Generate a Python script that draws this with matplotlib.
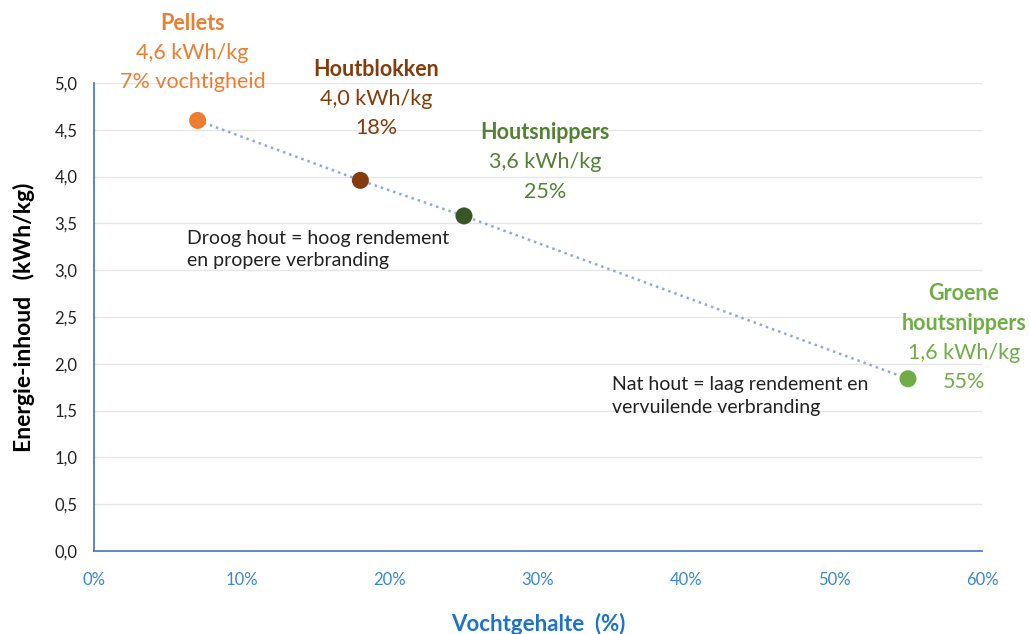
import matplotlib.pyplot as plt
from matplotlib.ticker import FuncFormatter

plt.rcParams['font.family'] = ['Lato', 'DejaVu Sans']

# data
names = ['Pellets', 'Houtblokken', 'Houtsnippers', 'Groene\nhoutsnippers']
moisture = [7, 18, 25, 55]          # %
energy = [4.6, 3.96, 3.58, 1.84]    # kWh/kg
energy_labels = ['4,6 kWh/kg', '4,0 kWh/kg', '3,6 kWh/kg', '1,6 kWh/kg']
moisture_labels = ['7% vochtigheid', '18%', '25%', '55%']
dot_colors = ['#ED7D31', '#843C0C', '#375623', '#70AD47']
text_colors = ['#ED7D31', '#843C0C', '#548235', '#70AD47']

fig = plt.figure(figsize=(10.3, 6.34), dpi=100)
ax = fig.add_axes([94/1030, 1-551/634, 888/1030, 468/634])

ax.plot(moisture, energy, linestyle=(0, (1, 1.6)), color='#8EAADB', lw=1.8, zorder=2)
ax.scatter(moisture, energy, s=150, c=dot_colors, zorder=3, edgecolors='none')

ax.set_xlim(0, 60)
ax.set_ylim(0, 5)
ax.set_xticks(range(0, 61, 10))
ax.set_yticks([i/2 for i in range(11)])
ax.xaxis.set_major_formatter(FuncFormatter(lambda v, p: f'{int(v)}%'))
ax.yaxis.set_major_formatter(FuncFormatter(lambda v, p: f'{v:.1f}'.replace('.', ',')))
ax.tick_params(length=0, labelsize=12)
ax.tick_params(axis='x', colors='#3A86D4', pad=15)
ax.tick_params(axis='y', colors='#222222', pad=12)
ax.grid(axis='y', color='#E6E6E6', lw=1)
ax.set_axisbelow(True)
for s in ['top', 'right']:
    ax.spines[s].set_visible(False)
for s in ['left', 'bottom']:
    ax.spines[s].set_color('#4472C4')
    ax.spines[s].set_linewidth(1.2)

ax.set_xlabel('Vochtgehalte  (%)', fontsize=16, fontweight='bold', color='#1E73C8', labelpad=18)
ax.set_ylabel('Energie-inhoud   (kWh/kg)', fontsize=16.5, fontweight='bold', color='black', labelpad=14)

# labels per point (offsets in pixels)
offsets = [(-5, 97), (16, 111), (81, 83), (56, 85)]
for i in range(len(names)):
    dx, dy = offsets[i]
    lines = [(names[i], 'bold')]
    if '\n' in names[i]:
        a, b = names[i].split('\n')
        lines = [(a, 'bold'), (b, 'bold')]
    lines += [(energy_labels[i], 'normal'), (moisture_labels[i], 'normal')]
    for j, (t, w) in enumerate(lines):
        ax.annotate(t, (moisture[i], energy[i]), xytext=(dx, dy - j*29.5),
                    textcoords='offset pixels', ha='center', va='center',
                    fontsize=15.5, fontweight=w,
                    color=text_colors[i], annotation_clip=False)

ax.annotate('Droog hout = hoog rendement\nen propere verbranding', (moisture[1], energy[1]),
            xytext=(188-361, 180-249), textcoords='offset pixels', ha='left', va='center',
            fontsize=14, color='#222222', linespacing=1.4)
ax.annotate('Nat hout = laag rendement en\nvervuilende verbranding', (moisture[3], energy[3]),
            xytext=(612-908, 379-396), textcoords='offset pixels', ha='left', va='center',
            fontsize=14, color='#222222', linespacing=1.4)

fig.savefig('out.png', dpi=100)
